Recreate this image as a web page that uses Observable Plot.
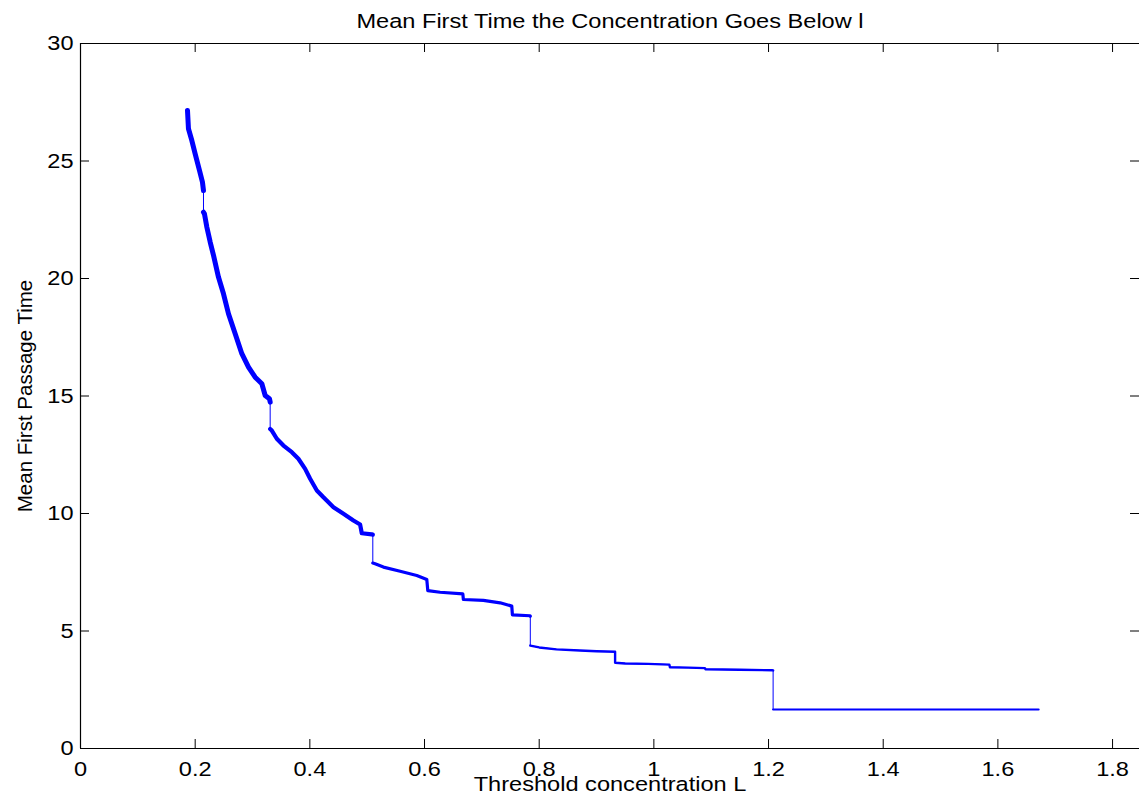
<!DOCTYPE html>
<html>
<head>
<meta charset="utf-8">
<script src="https://cdn.jsdelivr.net/npm/d3@7"></script>
<script src="https://cdn.jsdelivr.net/npm/@observablehq/plot@0.6"></script>
<style>
  html, body { margin: 0; padding: 0; background: #fff; overflow: hidden; }
  svg { display: block; }
</style>
</head>
<body>
<div id="chart"></div>
<script>
// ---- data ----
const titleText = "Mean First Time the Concentration Goes Below l";
const xLabelText = "Threshold concentration L";
const yLabelText = "Mean First Passage Time";

const xTicks = [0, 0.2, 0.4, 0.6, 0.8, 1, 1.2, 1.4, 1.6, 1.8];
const xTickLabels = ["0", "0.2", "0.4", "0.6", "0.8", "1", "1.2", "1.4", "1.6", "1.8"];
const yTicks = [0, 5, 10, 15, 20, 25, 30];
const yTickLabels = ["0", "5", "10", "15", "20", "25", "30"];

const threshold = [
  0.1866, 0.1883, 0.1942, 0.2000, 0.2075, 0.2127, 0.2145,
  0.2145, 0.2162, 0.2204, 0.2262, 0.2320, 0.2406, 0.2494, 0.2581, 0.2698, 0.2814, 0.2930, 0.3046, 0.3163, 0.3221, 0.3296, 0.3308,
  0.3308, 0.3337, 0.3424, 0.3540, 0.3686, 0.3800, 0.3918, 0.4005, 0.4122, 0.4237, 0.4412, 0.4586, 0.4760, 0.4877, 0.4906, 0.5081, 0.5098,
  0.5098, 0.5138, 0.5283, 0.5575, 0.5865, 0.6040, 0.6057, 0.6272, 0.6668, 0.6678, 0.7027, 0.7318, 0.7522, 0.7533, 0.7841, 0.7845,
  0.7845, 0.8000, 0.8300, 0.8710, 0.9000, 0.9324, 0.9324, 0.9500, 0.9900, 1.0270, 1.0280, 1.0600, 1.0890, 1.0900, 1.1500, 1.2070, 1.2080,
  1.2080, 1.3000, 1.5000, 1.6710
];
const passageTime = [
  27.15, 26.37, 25.87, 25.30, 24.60, 24.10, 23.74,
  22.82, 22.75, 22.18, 21.55, 20.98, 20.06, 19.35, 18.50, 17.65, 16.80, 16.23, 15.80, 15.52, 15.02, 14.88, 14.74,
  13.60, 13.53, 13.18, 12.89, 12.61, 12.33, 11.90, 11.48, 10.98, 10.69, 10.27, 9.99, 9.70, 9.53, 9.16, 9.11, 9.10,
  7.89, 7.86, 7.72, 7.54, 7.36, 7.19, 6.72, 6.65, 6.58, 6.34, 6.30, 6.20, 6.06, 5.69, 5.65, 5.63,
  4.38, 4.30, 4.22, 4.17, 4.14, 4.12, 3.65, 3.62, 3.60, 3.57, 3.46, 3.44, 3.42, 3.37, 3.35, 3.33, 3.32,
  1.66, 1.66, 1.66, 1.66
];
const segment = [
  1, 1, 1, 1, 1, 1, 1,
  2, 2, 2, 2, 2, 2, 2, 2, 2, 2, 2, 2, 2, 2, 2, 2,
  3, 3, 3, 3, 3, 3, 3, 3, 3, 3, 3, 3, 3, 3, 3, 3, 3,
  4, 4, 4, 4, 4, 4, 4, 4, 4, 4, 4, 4, 4, 4, 4, 4,
  5, 5, 5, 5, 5, 5, 5, 5, 5, 5, 5, 5, 5, 5, 5, 5, 5,
  6, 6, 6, 6
];

// ---- styling ----
const BLUE = "#0000ff";
const FONT = "'Liberation Sans', Arial, Helvetica, sans-serif";
const FS = 20.5;
const bandWidth = {1: 5, 2: 5, 3: 4.2, 4: 3.2, 5: 2.4, 6: 2.2};

const W = 1139, H = 803;
const mL = 80, mR = 0, mT = 43, mB = 55;
const fw = W - mL - mR, fh = H - mT - mB;
const TICK = 9;

const data = threshold.map((x, i) => ({x, y: passageTime[i], seg: segment[i]}));
const segIds = [...new Set(segment)];

const marks = [];
// thin line through all points (draws the vertical jumps)
marks.push(Plot.line(data, {x: "x", y: "y", stroke: BLUE, strokeWidth: 1}));
// noisy bands drawn as thicker strokes per segment
for (const s of segIds) {
  marks.push(Plot.line(data.filter(d => d.seg === s), {
    x: "x", y: "y", stroke: BLUE, strokeWidth: bandWidth[s], strokeLinejoin: "round"
  }));
}

// axes frame (left, bottom, top)
marks.push(Plot.ruleX([0], {stroke: "#000", strokeWidth: 1.2}));
marks.push(Plot.ruleY([0, 30], {stroke: "#000", strokeWidth: 1.2}));
// inward ticks
marks.push(Plot.tickX(xTicks, {x: d => d, insetTop: fh - TICK, stroke: "#000"}));
marks.push(Plot.tickX(xTicks, {x: d => d, insetBottom: fh - TICK, stroke: "#000"}));
marks.push(Plot.tickY(yTicks, {y: d => d, insetRight: fw - TICK, stroke: "#000"}));
marks.push(Plot.tickY(yTicks, {y: d => d, insetLeft: fw - TICK, stroke: "#000"}));
// tick labels
marks.push(Plot.text(xTicks, {
  x: d => d, text: (d, i) => xTickLabels[i], frameAnchor: "bottom", dy: 20.5,
  lineAnchor: "middle", textAnchor: "middle", fontSize: FS, fill: "#000"
}));
marks.push(Plot.text(yTicks, {
  y: d => d, text: (d, i) => yTickLabels[i], frameAnchor: "left", textAnchor: "end", dx: -7,
  lineAnchor: "middle", fontSize: FS, fill: "#000"
}));
// title and axis labels
marks.push(Plot.text([titleText], {
  text: d => d, frameAnchor: "top", dy: -22, lineAnchor: "middle", textAnchor: "middle", fontSize: FS, fill: "#000"
}));
marks.push(Plot.text([xLabelText], {
  text: d => d, frameAnchor: "bottom", dy: 36, lineAnchor: "middle", textAnchor: "middle", fontSize: FS, fill: "#000"
}));
marks.push(Plot.text([yLabelText], {
  text: d => d, frameAnchor: "left", dx: -55, rotate: -90, lineAnchor: "middle", textAnchor: "middle", fontSize: FS, fill: "#000"
}));

const chart = Plot.plot({
  width: W, height: H,
  marginLeft: mL, marginRight: mR, marginTop: mT, marginBottom: mB,
  x: {domain: [0, 1.847], axis: null},
  y: {domain: [0, 30], axis: null},
  style: {fontFamily: FONT, fontSize: FS + "px", background: "#fff", color: "#000"},
  marks
});
document.getElementById("chart").appendChild(chart);

// horizontal text in the reference is slightly stretched horizontally
for (const t of chart.querySelectorAll("text")) {
  const tr = t.getAttribute("transform") || "";
  if (tr.includes("rotate")) continue;
  const len = t.getComputedTextLength();
  if (len > 0) {
    t.setAttribute("textLength", (len * 1.15).toFixed(2));
    t.setAttribute("lengthAdjust", "spacingAndGlyphs");
  }
}
</script>
</body>
</html>
